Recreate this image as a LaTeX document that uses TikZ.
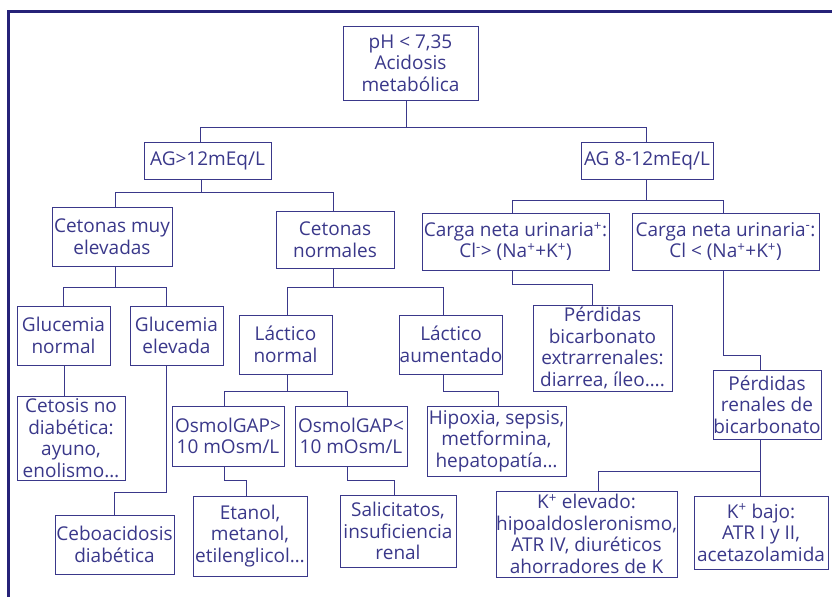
\documentclass[tikz,border=0pt]{standalone}
\usepackage{fontspec}
\setmainfont{Open Sans}
\usetikzlibrary{arrows.meta}
\definecolor{boxcol}{RGB}{58,56,138}
\definecolor{framecol}{RGB}{38,34,120}

\begin{document}
\begin{tikzpicture}[x=1pt, y=-1pt,
    box/.style={draw=boxcol, line width=1pt, text=boxcol, align=center, inner sep=0pt, font=\fontsize{19}{21.5}\selectfont},
    link/.style={draw=boxcol, line width=1pt}]
    \useasboundingbox (0,0) rectangle (832,597);
    \draw[framecol, line width=3pt] (832,11) -- (8,11) -- (8,597);

    \node[box, minimum width=135, minimum height=74] (ph) at (410.5,63) {pH < 7,35\\Acidosis\\metabólica};
    \node[box, minimum width=127, minimum height=37] (ag1) at (207.5,160.5) {AG>12mEq/L};
    \node[box, minimum width=132, minimum height=37] (ag2) at (647,160.5) {AG 8-12mEq/L};

    % AG > 12
    \node[box, minimum width=120, minimum height=59] (c1) at (112,236.5) {Cetonas muy\\elevadas};
    \node[box, minimum width=118, minimum height=57] (c2) at (335,239.5) {Cetonas\\normales};
    \node[box, minimum width=93, minimum height=59] (g1) at (63.5,335.5) {Glucemia\\normal};
    \node[box, minimum width=93, minimum height=59] (g2) at (176.5,335.5) {Glucemia\\elevada};
    \node[box, minimum width=108, minimum height=84] (g3) at (71,438) {Cetosis no\\diabética:\\ayuno,\\enolismo…};
    \node[box, minimum width=119, minimum height=59] (g4) at (114.5,544.5) {Ceboacidosis\\diabética};
    \node[box, minimum width=93, minimum height=59] (l1) at (285.5,344.5) {Láctico\\normal};
    \node[box, minimum width=102, minimum height=59] (l2) at (451,344.5) {Láctico\\aumentado};
    \node[box, minimum width=112, minimum height=60] (o1) at (228,436) {OsmolGAP>\\10 mOsm/L};
    \node[box, minimum width=112, minimum height=60] (o2) at (351,436) {OsmolGAP<\\10 mOsm/L};
    \node[box, minimum width=114, minimum height=80] (o3) at (250,536) {Etanol,\\metanol,\\etilenglicol…};
    \node[box, minimum width=116, minimum height=72] (o4) at (398,531) {Salicitatos,\\insuficiencia\\renal};
    \node[box, minimum width=139, minimum height=70] (l3) at (496.5,441) {Hipoxia, sepsis,\\metformina,\\hepatopatía…};

    % AG 8-12
    \node[box, minimum width=187, minimum height=57] (u1) at (515.5,241.5) {Carga neta urinaria\textsuperscript{+}:\\Cl\textsuperscript{-}> (Na\textsuperscript{+}+K\textsuperscript{+})};
    \node[box, minimum width=187, minimum height=57] (u2) at (725.5,241.5) {Carga neta urinaria\textsuperscript{-}:\\Cl < (Na\textsuperscript{+}+K\textsuperscript{+})};
    \node[box, minimum width=139, minimum height=86] (u3) at (602.5,348) {Pérdidas\\bicarbonato\\extrarrenales:\\diarrea, íleo….};
    \node[box, minimum width=108, minimum height=69] (u4) at (767,404.5) {Pérdidas\\renales de\\bicarbonato};
    \node[box, minimum width=181, minimum height=86] (k1) at (586.5,534) {K\textsuperscript{+} elevado:\\hipoaldosleronismo,\\ATR IV, diuréticos\\ahorradores de K};
    \node[box, minimum width=134, minimum height=73] (k2) at (761,532.5) {K\textsuperscript{+} bajo:\\ATR I y II,\\acetazolamida};

    \draw[link] ([xshift=-4.5]ph.south) -- ++(0,27) -| ([xshift=-7.5]ag1.north);
    \draw[link] ([xshift=-4.5]ph.south) -- ++(0,27) -| ([xshift=-1]ag2.north);

    \draw[link] ([xshift=-6.5]ag1.south) -- ++(0,13) -| ([xshift=3]c1.north);
    \draw[link] ([xshift=-6.5]ag1.south) -- ++(0,13) -| ([xshift=-2]c2.north);
    \draw[link] ([xshift=3]c1.south) -- ++(0,21) -| (g1.north);
    \draw[link] ([xshift=3]c1.south) -- ++(0,21) -| ([xshift=-10.5]g2.north);
    \draw[link] ([xshift=0.5]g1.south) -- ([xshift=-7]g3.north);
    \draw[link] ([xshift=-10.5]g2.south) -- ++(0,127) -| (g4.north);
    \draw[link] ([xshift=-2]c2.south) -- ++(0,19) -| ([xshift=1.5]l1.north);
    \draw[link] ([xshift=-2]c2.south) -- ++(0,19) -| ([xshift=-8]l2.north);
    \draw[link] ([xshift=1.5]l1.south) -- ++(0,17) -| ([xshift=-4]o1.north);
    \draw[link] ([xshift=1.5]l1.south) -- ++(0,17) -| ([xshift=-4]o2.north);
    \draw[link] ([xshift=-4]o1.south) -- ++(0,14) -| ([xshift=-4]o3.north);
    \draw[link] ([xshift=-4]o2.south) -- ++(0,14) -| ([xshift=-4]o4.north);
    \draw[link] ([xshift=-8]l2.south) -- ++(0,17) -| ([xshift=1.5]l3.north);

    \draw[link] ([xshift=-1]ag2.south) -- ++(0,21) -| ([xshift=-3.5]u1.north);
    \draw[link] ([xshift=-1]ag2.south) -- ++(0,21) -| ([xshift=-2.5]u2.north);
    \draw[link] ([xshift=-3.5]u1.south) -- ++(0,14) -| ([xshift=-10.5]u3.north);
    \draw[link] ([xshift=-2.5]u2.south) -- ++(0,85) -| ([xshift=-7]u4.north);
    \draw[link] ([xshift=-7]u4.south) -- ++(0,32) -| ([xshift=11.5]k1.north);
    \draw[link] ([xshift=-7]u4.south) -- ++(0,32) -| ([xshift=-1]k2.north);
\end{tikzpicture}
\end{document}
